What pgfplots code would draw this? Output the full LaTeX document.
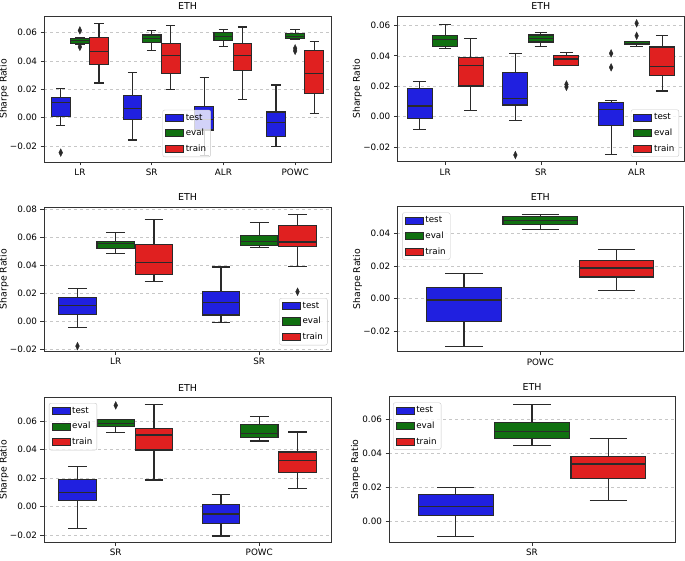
\documentclass[border=0pt]{standalone}
\usepackage{pgfplots}
\pgfplotsset{compat=1.18}
\usepgfplotslibrary{statistics}
\usepackage{fontspec}
\setmainfont{DejaVu Sans}
\definecolor{cblue}{RGB}{32,32,224}
\definecolor{cgreen}{RGB}{16,112,16}
\definecolor{cred}{RGB}{224,32,32}
\definecolor{edge}{RGB}{42,42,42}
\pgfplotsset{
  legbox/.style={legend image code/.code={\draw[##1, sharp corners, fill opacity=1, draw opacity=1] (0pt,-3.6pt) rectangle (18pt,3.6pt);}},
  ethax/.style={
    scale only axis, anchor=south west,
    scaled y ticks=false,
    axis line style={draw=black!80, line width=0.7pt},
    title={ETH},
    title style={font=\fontsize{9.5}{11}\selectfont, at={(0.5,1)}, anchor=south, yshift=-3pt},
    ylabel={Sharpe Ratio},
    ylabel style={font=\fontsize{9.3}{11}\selectfont, at={(axis description cs:-0.139,0.5)}, anchor=center},
    tick label style={font=\fontsize{8.8}{10}\selectfont},
    tick align=outside, tick pos=left, major tick length=3.5pt,
    tick style={black!80, line width=0.7pt},
    ymajorgrids, grid style={dashed, black!22, line width=0.5pt},
    legend cell align=left,
    legend style={font=\fontsize{8.7}{10}\selectfont, draw=black!22, fill=white,
      fill opacity=0.8, draw opacity=1, text opacity=1, rounded corners=2pt,
      inner xsep=2.5pt, inner ysep=2pt, row sep=3.5pt,
      /tikz/every even column/.append style={column sep=2pt}},
  }
}
% pos, color, lw, lq, med, uq, uw
\newcommand{\bx}[7]{\addplot[forget plot, draw=edge, line width=1.1pt,
  boxplot/draw direction=y,
  boxplot/every box/.style={fill=#2, draw=edge},
  boxplot prepared={draw position=#1, lower whisker=#3, lower quartile=#4, median=#5, upper quartile=#6, upper whisker=#7, box extend=0.261, whisker extend=0.13}] coordinates {};}
\newcommand{\fl}{\addplot[forget plot, only marks, mark=diamond*, mark size=3.8pt, mark options={xscale=0.65, fill=edge, draw=edge, line width=0.4pt}]}
\newcommand{\leg}{%
  \addlegendimage{legbox, fill=cblue, draw=edge, line width=0.6pt}\addlegendentry{test}
  \addlegendimage{legbox, fill=cgreen, draw=edge, line width=0.6pt}\addlegendentry{eval}
  \addlegendimage{legbox, fill=cred, draw=edge, line width=0.6pt}\addlegendentry{train}}
\begin{document}
\begin{tikzpicture}[x=1pt,y=1pt]
\useasboundingbox (0,0) rectangle (685,560);
% ---------- P1
\begin{axis}[ethax, at={(44pt,398pt)}, width=287pt, height=146pt,
  xmin=-0.5, xmax=3.5, xtick={0,1,2,3}, xticklabels={LR,SR,ALR,POWC},
  ymin=-0.0313, ymax=0.0718, ytick={-0.02,0,0.02,0.04,0.06},
  yticklabels={−0.02,0.00,0.02,0.04,0.06},
  legend style={at={(0.497,0.034)}, anchor=south}]
\leg
\bx{-0.2667}{cblue}{-0.0056}{0.0009}{0.0106}{0.0141}{0.0207}
\bx{0}{cgreen}{0.0518}{0.0526}{0.0543}{0.0558}{0.0566}
\bx{0.2667}{cred}{0.0245}{0.0374}{0.0466}{0.0569}{0.0666}
\bx{0.7333}{cblue}{-0.0158}{-0.0016}{0.0064}{0.0158}{0.0320}
\bx{1}{cgreen}{0.0477}{0.0531}{0.0558}{0.0584}{0.0614}
\bx{1.2667}{cred}{0.0202}{0.0315}{0.0440}{0.0525}{0.0650}
\bx{1.7333}{cblue}{-0.0264}{-0.0087}{-0.0010}{0.0078}{0.0285}
\bx{2}{cgreen}{0.0501}{0.0548}{0.0572}{0.0600}{0.0621}
\bx{2.2667}{cred}{0.0129}{0.0334}{0.0440}{0.0525}{0.0640}
\bx{2.7333}{cblue}{-0.0205}{-0.0136}{-0.0033}{0.0040}{0.0231}
\bx{3}{cgreen}{0.0552}{0.0558}{0.0574}{0.0595}{0.0624}
\bx{3.2667}{cred}{0.0031}{0.0169}{0.0311}{0.0473}{0.0539}
\fl coordinates {(-0.2667,-0.0247) (0,0.0616) (0,0.0500) (3,0.0490) (3,0.0472)};
\end{axis}
% ---------- P2
\begin{axis}[ethax, at={(397.3pt,398.3pt)}, width=287.2pt, height=145.7pt,
  xmin=-0.5, xmax=2.5, xtick={0,1,2}, xticklabels={LR,SR,ALR},
  ymin=-0.0296, ymax=0.0662, ytick={-0.02,0,0.02,0.04,0.06},
  yticklabels={−0.02,0.00,0.02,0.04,0.06},
  legend style={at={(0.981,0.034)}, anchor=south east}]
\leg
\bx{-0.2667}{cblue}{-0.0085}{-0.0011}{0.0070}{0.0184}{0.0232}
\bx{0}{cgreen}{0.0449}{0.0464}{0.0508}{0.0532}{0.0609}
\bx{0.2667}{cred}{0.0042}{0.0202}{0.0335}{0.0390}{0.0515}
\bx{0.7333}{cblue}{-0.0024}{0.0077}{0.0120}{0.0291}{0.0418}
\bx{1}{cgreen}{0.0462}{0.0491}{0.0515}{0.0537}{0.0554}
\bx{1.2667}{cred}{0.0335}{0.0335}{0.0379}{0.0401}{0.0423}
\bx{1.7333}{cblue}{-0.0247}{-0.0059}{0.0050}{0.0094}{0.0105}
\bx{2}{cgreen}{0.0460}{0.0473}{0.0484}{0.0496}{0.0496}
\bx{2.2667}{cred}{0.0169}{0.0272}{0.0331}{0.0458}{0.0535}
\fl coordinates {(0.7333,-0.0252) (1.2667,0.0212) (1.2667,0.0196) (1.7333,0.0416) (1.7333,0.0324) (2,0.0614) (2,0.0532)};
\end{axis}
% ---------- P3
\begin{axis}[ethax, at={(44pt,209pt)}, width=287pt, height=143.7pt,
  xmin=-0.5, xmax=1.5, xtick={0,1}, xticklabels={LR,SR},
  ymin=-0.0211, ymax=0.0812, ytick={-0.02,0,0.02,0.04,0.06,0.08},
  yticklabels={−0.02,0.00,0.02,0.04,0.06,0.08},
  legend style={at={(0.988,0.04)}, anchor=south east}]
\leg
\bx{-0.2667}{cblue}{-0.0045}{0.0048}{0.0114}{0.0173}{0.0233}
\bx{0}{cgreen}{0.0480}{0.0518}{0.0556}{0.0570}{0.0634}
\bx{0.2667}{cred}{0.0285}{0.0333}{0.0416}{0.0544}{0.0724}
\bx{0.7333}{cblue}{-0.0010}{0.0045}{0.0133}{0.0211}{0.0387}
\bx{1}{cgreen}{0.0527}{0.0539}{0.0568}{0.0610}{0.0703}
\bx{1.2667}{cred}{0.0390}{0.0532}{0.0565}{0.0684}{0.0762}
\fl coordinates {(-0.2667,-0.0176) (1.2667,0.0211)};
\end{axis}
% ---------- P4
\begin{axis}[ethax, at={(397.3pt,208.3pt)}, width=286pt, height=145pt,
  xmin=-0.5, xmax=0.5, xtick={0}, xticklabels={POWC},
  ymin=-0.0324, ymax=0.0563, ytick={-0.02,0,0.02,0.04},
  yticklabels={−0.02,0.00,0.02,0.04},
  legend style={at={(0.017,0.96)}, anchor=north west}]
\leg
\bx{-0.2667}{cblue}{-0.0290}{-0.0137}{-0.0008}{0.0069}{0.0155}
\bx{0}{cgreen}{0.0424}{0.0453}{0.0478}{0.0502}{0.0518}
\bx{0.2667}{cred}{0.0051}{0.0133}{0.0188}{0.0235}{0.0300}
\end{axis}
% ---------- P5
\begin{axis}[ethax, at={(44pt,17.7pt)}, width=287pt, height=144.6pt,
  xmin=-0.5, xmax=1.5, xtick={0,1}, xticklabels={SR,POWC},
  ymin=-0.025, ymax=0.0765, ytick={-0.02,0,0.02,0.04,0.06},
  yticklabels={−0.02,0.00,0.02,0.04,0.06},
  legend style={at={(0.017,0.963)}, anchor=north west}]
\leg
\bx{-0.2667}{cblue}{-0.0154}{0.0042}{0.0101}{0.0192}{0.0285}
\bx{0}{cgreen}{0.0522}{0.0561}{0.0587}{0.0615}{0.0615}
\bx{0.2667}{cred}{0.0187}{0.0398}{0.0503}{0.0547}{0.0716}
\bx{0.7333}{cblue}{-0.0206}{-0.0119}{-0.0051}{0.0014}{0.0087}
\bx{1}{cgreen}{0.0461}{0.0487}{0.0512}{0.0580}{0.0636}
\bx{1.2667}{cred}{0.0126}{0.0241}{0.0325}{0.0384}{0.0524}
\fl coordinates {(0,0.0711)};
\end{axis}
% ---------- P6
\begin{axis}[ethax, at={(389pt,17.7pt)}, width=286pt, height=145.6pt,
  xmin=-0.5, xmax=0.5, xtick={0}, xticklabels={SR},
  ymin=-0.0121, ymax=0.0733, ytick={0,0.02,0.04,0.06},
  yticklabels={0.00,0.02,0.04,0.06},
  ylabel style={at={(axis description cs:-0.117,0.5)}},
  legend style={at={(0.014,0.96)}, anchor=north west}]
\leg
\bx{-0.2667}{cblue}{-0.0086}{0.0037}{0.0090}{0.0158}{0.0199}
\bx{0}{cgreen}{0.0446}{0.0487}{0.0530}{0.0583}{0.0686}
\bx{0.2667}{cred}{0.0125}{0.0252}{0.0338}{0.0381}{0.0487}
\end{axis}
\end{tikzpicture}
\end{document}
